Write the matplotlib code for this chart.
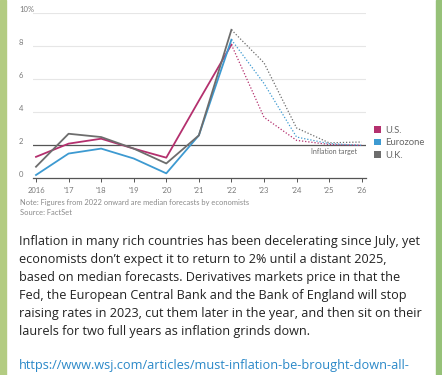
import matplotlib.pyplot as plt
from matplotlib.patches import Patch

# inflation, % (2022 onward are forecasts)
years = [2016, 2017, 2018, 2019, 2020, 2021, 2022, 2023, 2024, 2025, 2026]
us = [1.3, 2.1, 2.4, 1.8, 1.25, 4.7, 8.1, 3.7, 2.3, 2.05, 2.0]
euro = [0.2, 1.5, 1.8, 1.2, 0.3, 2.6, 8.4, 5.75, 2.5, 2.1, 2.0]
uk = [0.7, 2.7, 2.5, 1.8, 0.9, 2.6, 9.0, 7.0, 3.05, 2.15, 2.2]
tick_labels = ['2016', "'17", "'18", "'19", "'20", "'21", "'22", "'23", "'24", "'25", "'26"]
forecast_from = 6  # index of 2022

W, H = 442, 375
fig = plt.figure(figsize=(W / 100, H / 100), dpi=100)
fig.patch.set_facecolor('white')

# telegram background strips
fig.add_artist(plt.Rectangle((0, 0), 6 / W, 1, transform=fig.transFigure, color='#b3cc82', zorder=0))
fig.add_artist(plt.Rectangle((436 / W, 0), 6 / W, 1, transform=fig.transFigure, color='#96c178', zorder=0))

def px(x, y):
    return x / W, 1 - y / H

left, right = 33, 366
top, bottom = 13.3, 178.3
ax = fig.add_axes([left / W, 1 - bottom / H, (right - left) / W, (bottom - top) / H])
ax.set_facecolor('none')
step = (361.7 - 36) / 10
ax.set_xlim(2016 - 3 / step, 2026 + 4.3 / step)
ax.set_ylim(0, 10)

grey = '#7a7a7a'
for v in [4, 6, 8, 10]:
    ax.axhline(v, color='#e6e6e6', lw=0.8, zorder=1)
ax.axhline(2, color='#555555', lw=0.9, zorder=2)

series = [('U.S.', us, '#b4306e'), ('Eurozone', euro, '#3d9ad1'), ('U.K.', uk, '#6d6d6d')]
for name, vals, c in series:
    ax.plot(years[:forecast_from + 1], vals[:forecast_from + 1], color=c, lw=1.3, zorder=3)
    ax.plot(years[forecast_from:], vals[forecast_from:], color=c, lw=0.9, ls=(0, (1, 1.5)), zorder=3)

for s in ['top', 'right', 'left']:
    ax.spines[s].set_visible(False)
ax.spines['bottom'].set_color('#555555')
ax.spines['bottom'].set_linewidth(0.9)
ax.set_xticks(years)
ax.set_xticklabels(tick_labels, fontsize=5.5, color=grey, family='Lato')
ax.tick_params(axis='x', length=3, width=0.7, color='#555555', pad=3)
ax.set_yticks([])

ylab_tr = ax.get_yaxis_transform().__class__(fig.transFigure, ax.transData)
for v in [0, 2, 4, 6, 8, 10]:
    lab = '10%' if v == 10 else str(v)
    ax.text(19 / W, v, lab, transform=ylab_tr,
            fontsize=5.5, color=grey, family='Lato', va='bottom', ha='left')

ax.text(2025.85, 1.85, 'Inflation target', fontsize=5, color='#666666', family='Lato', ha='right', va='top')

handles = [Patch(facecolor=c, edgecolor='none', label=n) for n, _, c in series]
fig.legend(handles=handles, loc='upper left', bbox_to_anchor=px(374, 126), frameon=False,
           handlelength=0.75, handleheight=0.75, handletextpad=0.4,
           labelspacing=0.35, borderaxespad=0, borderpad=0,
           labelcolor='#666666', prop={'family': 'Lato', 'size': 6.8})

fig.text(*px(20, 203), 'Note: Figures from 2022 onward are median forecasts by economists',
         fontsize=5.4, color='#8a8a8a', family='Lato', va='center')
fig.text(*px(20, 213), 'Source: FactSet', fontsize=5.4, color='#8a8a8a', family='Lato', va='center')

body = ["Inflation in many rich countries has been decelerating since July, yet",
        "economists don\u2019t expect it to return to 2% until a distant 2025,",
        "based on median forecasts. Derivatives markets price in that the",
        "Fed, the European Central Bank and the Bank of England will stop",
        "raising rates in 2023, cut them later in the year, and then sit on their",
        "laurels for two full years as inflation grinds down."]
for i, line in enumerate(body):
    fig.text(*px(19, 242 + i * 18), line, fontsize=9.1, color='#222222', family='Open Sans', va='center')

fig.text(*px(19, 366), 'https://www.wsj.com/articles/must-inflation-be-brought-down-all-',
         fontsize=9.2, color='#2a88c8', family='Open Sans', va='center')

fig.savefig('out.png', dpi=100)
